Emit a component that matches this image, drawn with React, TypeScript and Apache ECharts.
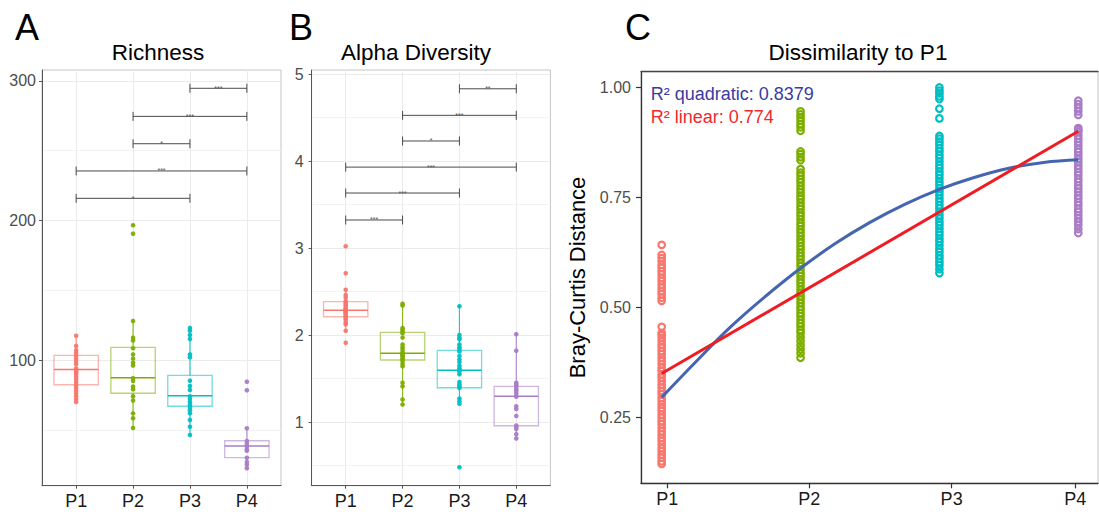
import React, { useEffect, useRef } from 'react';
import * as echarts from 'echarts';

const categories = ['P1', 'P2', 'P3', 'P4'];
const groupColors = ['#F8766D', '#7CAE00', '#00BFC4', '#A97CC6'];
const FONT = "'Liberation Sans', Arial, Helvetica, sans-serif";

// Panel A: Richness
const richTicks = [100, 200, 300];
const richMinorTicks = [50, 150, 250];
const richP1 = [117.4, 110, 107, 105, 103, 101, 99, 97, 94, 93, 92, 91, 90, 88, 86, 84, 82, 80, 78, 76, 74, 72, 70];
const richP2 = [196.5, 190.5, 128, 116, 114, 108.4, 104, 101, 98, 96, 87, 85, 81, 79, 74, 71, 61.8, 58.3, 51.3];
const richP3 = [123, 121, 118, 115, 104, 102, 85.2, 81.4, 78.5, 74, 72, 70, 68, 66, 64, 61.8, 57, 52.2, 46.3];
const richP4 = [84.5, 78.3, 51.1, 42, 40, 38, 36, 35, 30, 27, 25, 22.5];
// [group, low whisker, q1, median, q3, high whisker]
const richBoxes = [
  [1, 70, 82.3, 93.3, 103.4, 117.4],
  [2, 51.3, 76.2, 87.3, 109.1, 128.1],
  [3, 46.3, 66.9, 74.4, 89.0, 123.4],
  [4, 22.5, 30.1, 38.4, 42.2, 51.1],
];
// [from group, to group, y, label index]
const richSig = [
  [3, 4, 294.6, 0],
  [2, 4, 274.5, 1],
  [2, 3, 254.9, 2],
  [1, 4, 235.4, 3],
  [1, 3, 215.8, 4],
];
const richSigLabels = ['***', '***', '*', '***', '*'];

// Panel B: Alpha Diversity
const alphaTicks = [1, 2, 3, 4, 5];
const alphaMinorTicks = [0.5, 1.5, 2.5, 3.5, 4.5];
const alphaP1 = [3.02, 2.71, 2.52, 2.46, 2.43, 2.39, 2.37, 2.35, 2.33, 2.31, 2.3, 2.29, 2.28, 2.27, 2.26, 2.25, 2.24, 2.22, 2.21, 2.19, 2.17, 2.14, 2.12, 2.05, 1.91];
const alphaP2 = [2.36, 2.34, 2.08, 2.06, 2.04, 2.02, 1.97, 1.89, 1.86, 1.83, 1.8, 1.79, 1.78, 1.77, 1.76, 1.74, 1.72, 1.7, 1.67, 1.64, 1.45, 1.41, 1.26, 1.2];
const alphaP3 = [2.33, 2.0, 1.97, 1.95, 1.89, 1.86, 1.84, 1.81, 1.76, 1.72, 1.69, 1.65, 1.62, 1.6, 1.58, 1.55, 1.46, 1.43, 1.41, 1.39, 1.27, 1.24, 1.21, 0.48];
const alphaP4 = [2.01, 1.82, 1.45, 1.43, 1.41, 1.38, 1.36, 1.33, 1.3, 1.29, 1.18, 1.15, 1.07, 0.96, 0.94, 0.92, 0.86, 0.81];
const alphaBoxes = [
  [1, 2.046, 2.21, 2.284, 2.383, 2.525],
  [2, 1.195, 1.713, 1.79, 2.031, 2.356],
  [3, 1.203, 1.394, 1.594, 1.824, 2.333],
  [4, 0.805, 0.957, 1.295, 1.41, 2.011],
];
const alphaSig = [
  [3, 4, 4.83, 0],
  [2, 4, 4.525, 1],
  [2, 3, 4.23, 2],
  [1, 4, 3.93, 3],
  [1, 3, 3.632, 4],
  [1, 2, 3.322, 5],
];
const alphaSigLabels = ['**', '***', '*', '***', '***', '***'];

// Panel C: Dissimilarity to P1 (Bray-Curtis distance)
const distTicks = [0.25, 0.5, 0.75, 1.0];
const distP1 = [0.145, 0.151, 0.159, 0.166, 0.174, 0.181, 0.189, 0.197, 0.204, 0.212, 0.219, 0.227, 0.235, 0.242, 0.25, 0.257, 0.265, 0.272, 0.28, 0.288, 0.295, 0.303, 0.31, 0.318, 0.325, 0.333, 0.341, 0.348, 0.356, 0.363, 0.371, 0.379, 0.386, 0.394, 0.401, 0.409, 0.416, 0.424, 0.431, 0.437, 0.442, 0.456, 0.515, 0.522, 0.53, 0.537, 0.545, 0.552, 0.56, 0.567, 0.575, 0.582, 0.59, 0.597, 0.605, 0.612, 0.619, 0.642];
const distP2 = [0.386, 0.396, 0.405, 0.414, 0.424, 0.433, 0.442, 0.449, 0.457, 0.464, 0.472, 0.48, 0.487, 0.495, 0.502, 0.51, 0.518, 0.525, 0.533, 0.54, 0.548, 0.556, 0.563, 0.571, 0.578, 0.586, 0.594, 0.601, 0.609, 0.616, 0.624, 0.632, 0.639, 0.647, 0.654, 0.662, 0.67, 0.677, 0.685, 0.692, 0.7, 0.708, 0.715, 0.723, 0.73, 0.738, 0.746, 0.753, 0.761, 0.768, 0.776, 0.784, 0.791, 0.799, 0.806, 0.814, 0.834, 0.841, 0.848, 0.854, 0.901, 0.909, 0.916, 0.924, 0.931, 0.938, 0.945];
const distP3 = [0.578, 0.587, 0.596, 0.603, 0.611, 0.618, 0.626, 0.633, 0.641, 0.649, 0.656, 0.664, 0.671, 0.679, 0.687, 0.694, 0.702, 0.709, 0.717, 0.725, 0.732, 0.74, 0.747, 0.755, 0.763, 0.77, 0.778, 0.785, 0.793, 0.801, 0.808, 0.816, 0.823, 0.831, 0.839, 0.846, 0.854, 0.861, 0.869, 0.876, 0.883, 0.889, 0.929, 0.951, 0.973, 0.979, 0.986, 0.992, 0.999];
const distP4 = [0.669, 0.678, 0.687, 0.695, 0.702, 0.709, 0.717, 0.724, 0.732, 0.739, 0.747, 0.754, 0.762, 0.77, 0.777, 0.785, 0.792, 0.8, 0.807, 0.815, 0.822, 0.83, 0.837, 0.845, 0.853, 0.86, 0.868, 0.875, 0.883, 0.89, 0.898, 0.903, 0.907, 0.937, 0.945, 0.953, 0.961, 0.969];
const quadX = [1, 1.25, 1.5, 1.75, 2, 2.25, 2.5, 2.75, 3, 3.25, 3.5, 3.75, 4];
const quadY = [0.296, 0.378, 0.457, 0.526, 0.589, 0.645, 0.693, 0.734, 0.768, 0.795, 0.816, 0.829, 0.835];
const linX = [1, 4];
const linY = [0.35, 0.9];
const quadLabel = 'R² quadratic: 0.8379';
const linLabel = 'R² linear: 0.774';

const BOX_HALF = 0.39;

function boxRender(params: any, api: any) {
  const g = api.value(0);
  const lo = api.value(1), q1 = api.value(2), med = api.value(3), q3 = api.value(4), hi = api.value(5);
  const color = groupColors[g - 1];
  const tl = api.coord([g - BOX_HALF, q3]);
  const br = api.coord([g + BOX_HALF, q1]);
  const pHi = api.coord([g, hi]);
  const pLo = api.coord([g, lo]);
  const pQ3 = api.coord([g, q3]);
  const pQ1 = api.coord([g, q1]);
  const mL = api.coord([g - BOX_HALF, med]);
  const mR = api.coord([g + BOX_HALF, med]);
  return {
    type: 'group',
    children: [
      { type: 'line', shape: { x1: pHi[0], y1: pHi[1], x2: pQ3[0], y2: pQ3[1] }, style: { stroke: color, lineWidth: 1.2, opacity: 0.85 } },
      { type: 'line', shape: { x1: pLo[0], y1: pLo[1], x2: pQ1[0], y2: pQ1[1] }, style: { stroke: color, lineWidth: 1.2, opacity: 0.85 } },
      { type: 'rect', shape: { x: tl[0], y: tl[1], width: br[0] - tl[0], height: br[1] - tl[1] }, style: { fill: 'none', stroke: color, lineWidth: 1.3, opacity: 0.55 } },
      { type: 'line', shape: { x1: mL[0], y1: mL[1], x2: mR[0], y2: mR[1] }, style: { stroke: color, lineWidth: 1.5 } },
    ],
  };
}

function makeSigRender(labels: string[]) {
  return (params: any, api: any) => {
    const x1 = api.value(0), x2 = api.value(1), y = api.value(2), li = api.value(3);
    const a = api.coord([x1, y]);
    const b = api.coord([x2, y]);
    const stroke = '#4a4a4a';
    return {
      type: 'group',
      children: [
        { type: 'line', shape: { x1: a[0], y1: a[1], x2: b[0], y2: b[1] }, style: { stroke, lineWidth: 1 } },
        { type: 'line', shape: { x1: a[0], y1: a[1] - 4.5, x2: a[0], y2: a[1] + 4.5 }, style: { stroke, lineWidth: 1 } },
        { type: 'line', shape: { x1: b[0], y1: b[1] - 4.5, x2: b[0], y2: b[1] + 4.5 }, style: { stroke, lineWidth: 1 } },
        {
          type: 'text',
          x: (a[0] + b[0]) / 2,
          y: a[1],
          style: { text: labels[li], fontSize: 7, fill: '#555', align: 'center', verticalAlign: 'middle', fontFamily: FONT },
        },
      ],
    };
  };
}

function catXAxis(gridIndex: number) {
  return {
    type: 'value',
    gridIndex,
    min: 0.4,
    max: 4.6,
    axisLine: { show: true, onZero: false, lineStyle: { color: '#555', width: 1 } },
    axisTick: { show: true, customValues: [1, 2, 3, 4], length: 3, lineStyle: { color: '#555' } },
    axisLabel: {
      show: true,
      customValues: [1, 2, 3, 4],
      formatter: (v: number) => categories[Math.round(v) - 1],
      color: '#1a1a1a',
      fontSize: 18,
      fontFamily: FONT,
      margin: 6,
    },
    splitLine: { show: true, lineStyle: { color: '#ebebeb', width: 1 } },
  };
}

function majorYAxis(gridIndex: number, min: number, max: number, ticks: number[], margin: number) {
  return {
    type: 'value',
    gridIndex,
    min,
    max,
    axisLine: { show: true, onZero: false, lineStyle: { color: '#555', width: 1 } },
    axisTick: { show: true, customValues: ticks, length: 3, lineStyle: { color: '#555' } },
    axisLabel: { show: true, customValues: ticks, color: '#4d4d4d', fontSize: 16, fontFamily: FONT, margin },
    splitLine: { show: true, lineStyle: { color: '#ebebeb', width: 1 } },
  };
}

function minorYAxis(gridIndex: number, min: number, max: number, ticks: number[]) {
  return {
    type: 'value',
    gridIndex,
    min,
    max,
    position: 'left',
    axisLine: { show: false },
    axisTick: { show: false, customValues: ticks },
    axisLabel: { show: false, customValues: ticks },
    splitLine: { show: true, lineStyle: { color: '#f3f3f3', width: 1 } },
  };
}

function scatterSeries(values: number[], g: number, xAxisIndex: number, yAxisIndex: number) {
  return {
    type: 'scatter',
    xAxisIndex,
    yAxisIndex,
    silent: true,
    symbol: 'circle',
    symbolSize: 4.6,
    itemStyle: { color: groupColors[g - 1], opacity: 0.95 },
    data: values.map((v) => [g, v]),
    z: 3,
  };
}

function hollowSeries(values: number[], g: number) {
  return {
    type: 'scatter',
    xAxisIndex: 2,
    yAxisIndex: 4,
    silent: true,
    symbol: 'circle',
    symbolSize: 6.6,
    itemStyle: { color: 'rgba(0,0,0,0)', borderColor: groupColors[g - 1], borderWidth: 2.2, opacity: 1 },
    data: values.map((v) => [g, v]),
    z: 2,
  };
}

const cTickPos = [1.04, 2.062, 3.088, 3.978];

export default function App() {
  const ref = useRef<HTMLDivElement>(null);
  useEffect(() => {
    document.body.style.margin = '0';
    if (!ref.current) return;
    const chart = echarts.init(ref.current, undefined, { renderer: 'svg' });
    const option: any = {
      animation: false,
      backgroundColor: '#ffffff',
      textStyle: { fontFamily: FONT },
      grid: [
        { left: 42, top: 70, width: 239, height: 415.7, show: true, borderColor: '#c4c4c4', borderWidth: 1, backgroundColor: 'transparent', outerBoundsMode: 'none', containLabel: false },
        { left: 311.6, top: 70, width: 238.8, height: 415.7, show: true, borderColor: '#c4c4c4', borderWidth: 1, backgroundColor: 'transparent', outerBoundsMode: 'none', containLabel: false },
        { left: 641, top: 71.7, width: 457, height: 411.6, show: true, borderColor: '#c4c4c4', borderWidth: 1, backgroundColor: 'transparent', outerBoundsMode: 'none', containLabel: false },
      ],
      xAxis: [
        catXAxis(0),
        catXAxis(1),
        {
          type: 'value',
          gridIndex: 2,
          min: 0.851,
          max: 4.142,
          axisLine: { show: true, onZero: false, lineStyle: { color: '#333', width: 1.3 } },
          axisTick: { show: true, customValues: cTickPos, length: 5, lineStyle: { color: '#333', width: 1.2 } },
          axisLabel: {
            show: true,
            customValues: cTickPos,
            formatter: (v: number) => categories[Math.round(v) - 1],
            color: '#1a1a1a',
            fontSize: 18,
            fontFamily: FONT,
            margin: 7,
          },
          splitLine: { show: false },
        },
        {
          type: 'value',
          gridIndex: 2,
          position: 'top',
          min: 0.851,
          max: 4.142,
          axisLine: { show: true, onZero: false, lineStyle: { color: '#444', width: 1.3 } },
          axisTick: { show: false },
          axisLabel: { show: false },
          splitLine: { show: false },
        },
      ],
      yAxis: [
        majorYAxis(0, 10, 307.7, richTicks, 6),
        minorYAxis(0, 10, 307.7, richMinorTicks),
        majorYAxis(1, 0.268, 5.046, alphaTicks, 8),
        minorYAxis(1, 0.268, 5.046, alphaMinorTicks),
        {
          type: 'value',
          gridIndex: 2,
          min: 0.101,
          max: 1.035,
          axisLine: { show: true, onZero: false, lineStyle: { color: '#333', width: 1.3 } },
          axisTick: { show: true, customValues: distTicks, length: 5, lineStyle: { color: '#333', width: 1.2 } },
          axisLabel: {
            show: true,
            customValues: distTicks,
            formatter: (v: number) => v.toFixed(2),
            color: '#4d4d4d',
            fontSize: 16,
            fontFamily: FONT,
            margin: 10,
          },
          splitLine: { show: false },
        },
      ],
      series: [
        { type: 'custom', xAxisIndex: 0, yAxisIndex: 0, silent: true, renderItem: boxRender, data: richBoxes, z: 2 },
        scatterSeries(richP1, 1, 0, 0),
        scatterSeries(richP2, 2, 0, 0),
        scatterSeries(richP3, 3, 0, 0),
        scatterSeries(richP4, 4, 0, 0),
        { type: 'custom', xAxisIndex: 0, yAxisIndex: 0, silent: true, renderItem: makeSigRender(richSigLabels), data: richSig, z: 4 },

        { type: 'custom', xAxisIndex: 1, yAxisIndex: 2, silent: true, renderItem: boxRender, data: alphaBoxes, z: 2 },
        scatterSeries(alphaP1, 1, 1, 2),
        scatterSeries(alphaP2, 2, 1, 2),
        scatterSeries(alphaP3, 3, 1, 2),
        scatterSeries(alphaP4, 4, 1, 2),
        { type: 'custom', xAxisIndex: 1, yAxisIndex: 2, silent: true, renderItem: makeSigRender(alphaSigLabels), data: alphaSig, z: 4 },

        hollowSeries(distP1, 1),
        hollowSeries(distP2, 2),
        hollowSeries(distP3, 3),
        hollowSeries(distP4, 4),
        {
          type: 'line',
          xAxisIndex: 2,
          yAxisIndex: 4,
          silent: true,
          showSymbol: false,
          smooth: 0.4,
          lineStyle: { color: '#4565B0', width: 3 },
          data: quadX.map((x, i) => [x, quadY[i]]),
          z: 5,
        },
        {
          type: 'line',
          xAxisIndex: 2,
          yAxisIndex: 4,
          silent: true,
          showSymbol: false,
          lineStyle: { color: '#EE1D23', width: 3 },
          data: linX.map((x, i) => [x, linY[i]]),
          z: 6,
        },
      ],
      graphic: [
        { type: 'text', x: 15, y: 27, style: { text: 'A', fontSize: 36, fill: '#000', align: 'left', verticalAlign: 'middle', fontFamily: FONT } },
        { type: 'text', x: 289, y: 27, style: { text: 'B', fontSize: 36, fill: '#000', align: 'left', verticalAlign: 'middle', fontFamily: FONT } },
        { type: 'text', x: 625, y: 27, style: { text: 'C', fontSize: 36, fill: '#000', align: 'left', verticalAlign: 'middle', fontFamily: FONT } },
        { type: 'text', x: 158, y: 52, style: { text: 'Richness', fontSize: 22.5, fill: '#000', align: 'center', verticalAlign: 'middle', fontFamily: FONT } },
        { type: 'text', x: 416, y: 52, style: { text: 'Alpha Diversity', fontSize: 22.5, fill: '#000', align: 'center', verticalAlign: 'middle', fontFamily: FONT } },
        { type: 'text', x: 858, y: 52, style: { text: 'Dissimilarity to P1', fontSize: 22.5, fill: '#000', align: 'center', verticalAlign: 'middle', fontFamily: FONT } },
        { type: 'text', x: 577, y: 277.5, rotation: Math.PI / 2, style: { text: 'Bray-Curtis Distance', fontSize: 22, fill: '#000', align: 'center', verticalAlign: 'middle', fontFamily: FONT } },
        { type: 'text', x: 650.7, y: 94, z: 10, style: { text: quadLabel, fontSize: 18, fill: '#3B3C9E', align: 'left', verticalAlign: 'middle', fontFamily: FONT } },
        { type: 'text', x: 650.7, y: 116.8, z: 10, style: { text: linLabel, fontSize: 18, fill: '#EE2A2E', align: 'left', verticalAlign: 'middle', fontFamily: FONT } },
      ],
    };
    chart.setOption(option);
    return () => {
      chart.dispose();
    };
  }, []);
  return <div ref={ref} style={{ width: 1099, height: 512 }} />;
}
